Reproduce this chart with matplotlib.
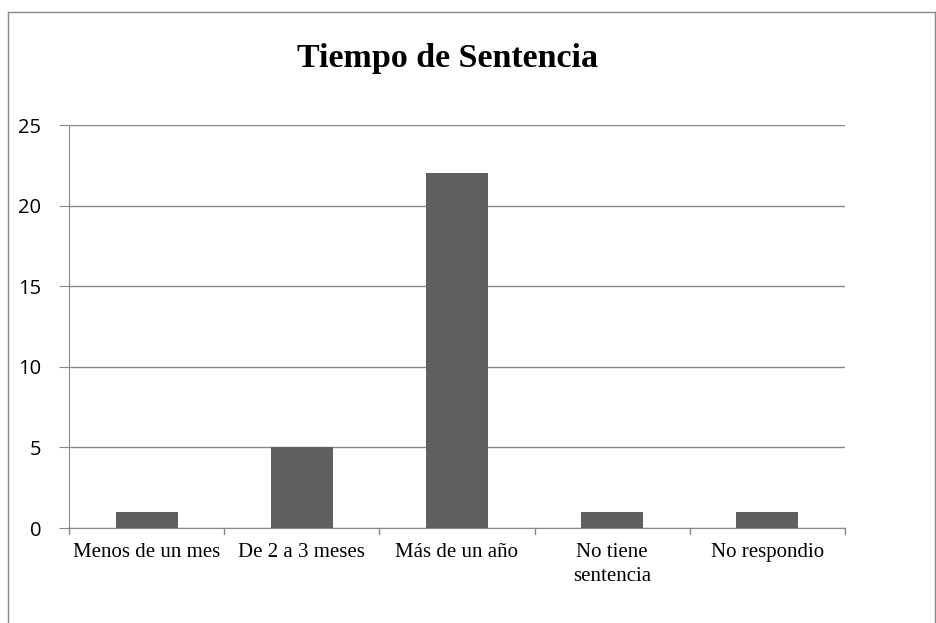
import matplotlib
matplotlib.use("Agg")
import matplotlib.pyplot as plt
from matplotlib.lines import Line2D

categories = ["Menos de un mes", "De 2 a 3 meses", "Más de un año", "No tiene\nsentencia", "No respondio"]
values = [1, 5, 22, 1, 1]
yticks = [0, 5, 10, 15, 20, 25]

W, H = 937, 623
fig = plt.figure(figsize=(W/100, H/100), dpi=100)
ax = fig.add_axes([69/W, 1-528/H, (845-69)/W, (528-125)/H])

x = list(range(len(categories)))
ax.bar(x, values, width=0.4, color="#5f5f5f", zorder=3)
ax.set_xlim(-0.5, len(categories)-0.5)
ax.set_ylim(0, 25)
ax.set_yticks(yticks)
ax.set_yticklabels([str(v) for v in yticks], fontsize=14.5, family="Open Sans")
ax.yaxis.grid(True, color="#888888", linewidth=1)
ax.set_axisbelow(True)
for s in ["top", "right"]:
    ax.spines[s].set_visible(False)
ax.spines["left"].set_color("#888888")
ax.spines["bottom"].set_color("#888888")
ax.tick_params(axis="y", length=7, color="#888888", pad=13)
ax.set_xticks(x)
ax.set_xticklabels(categories, fontsize=15, family="Liberation Serif", linespacing=1.35)
ax.tick_params(axis="x", length=0, pad=11)
for b in [i - 0.5 for i in range(len(categories)+1)]:
    ax.plot([b, b], [0, -0.4], color="#888888", linewidth=1, clip_on=False, zorder=4)

fig.text(448/W, 1-59/H, "Tiempo de Sentencia", ha="center", va="center",
         fontsize=24.5, fontweight="bold", family="Liberation Serif")

# figure border
fig.add_artist(Line2D([8.5/W, 8.5/W], [0, 1-12/H], transform=fig.transFigure, color="#888888", lw=1))
fig.add_artist(Line2D([8.5/W, 935.5/W], [1-12/H, 1-12/H], transform=fig.transFigure, color="#888888", lw=1))
fig.add_artist(Line2D([935.5/W, 935.5/W], [0, 1-12/H], transform=fig.transFigure, color="#888888", lw=1))

fig.savefig("out.png", dpi=100, facecolor="white")
